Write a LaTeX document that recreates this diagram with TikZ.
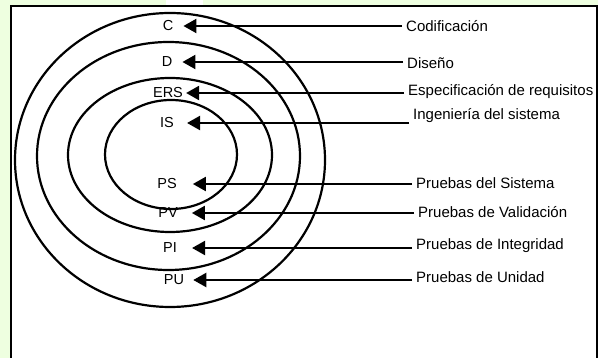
\documentclass[tikz,border=0pt]{standalone}
\usepackage{fontspec}
\setmainfont{Liberation Sans}
\usetikzlibrary{arrows.meta}
\definecolor{bgreen}{HTML}{EEFFE0}
\tikzset{
  ring/.style={line width=2.2pt, draw=black},
  conn/.style={line width=2.2pt, -{Triangle[length=13pt,width=14pt]}},
  inlab/.style={font=\fontsize{14.5}{16}\selectfont, inner sep=0pt},
  outlab/.style={font=\fontsize{15}{17}\selectfont, anchor=west, inner xsep=4pt, inner ysep=0pt},
}
\begin{document}
\begin{tikzpicture}[x=1pt,y=-1pt]
\useasboundingbox (0,0) rectangle (598,358);
\fill[bgreen] (0,0) rectangle (598,358);
\fill[white] (166,0) rectangle (203,6);
\fill[white] (11,6) rectangle (597,358);
\draw[line width=2pt] (11,358) -- (11,6) -- (597,6) -- (597,358);
% rings
\draw[ring] (170,160) ellipse [x radius=155, y radius=147];
\draw[ring] (168.5,156) ellipse [x radius=131.5, y radius=114];
\draw[ring] (170,155) ellipse [x radius=102, y radius=77];
\draw[ring] (171,154.5) ellipse [x radius=66, y radius=54.5];
% inner labels
\node[inlab] (lC) at (168,26) {C};
\node[inlab] (lD) at (167,62) {D};
\node[inlab] (lERS) at (168,93) {ERS};
\node[inlab] (lIS) at (167,123) {IS};
\node[inlab] (lPS) at (167,184) {PS};
\node[inlab] (lPV) at (168,213) {PV};
\node[inlab] (lPI) at (170,248) {PI};
\node[inlab] (lPU) at (174,280) {PU};
% outer labels
\node[outlab] (tC) at (402,26) {Codificación};
\node[outlab] (tD) at (403,63) {Diseño};
\node[outlab] (tERS) at (404,92) {Especificación de requisitos};
\node[outlab] (tIS) at (409,116) {Ingeniería del sistema};
\node[outlab] (tPS) at (412,183) {Pruebas del Sistema};
\node[outlab] (tPV) at (414,212) {Pruebas de Validación};
\node[outlab] (tPI) at (412,246) {Pruebas de Integridad};
\node[outlab] (tPU) at (412,277) {Pruebas de Unidad};
% connectors
\draw[conn, shorten >=10pt] (tC.west |- lC) -- (lC.east);
\draw[conn, shorten >=10pt] (tD.west |- lD) -- (lD.east);
\draw[conn, shorten >=3pt] (tERS.west |- lERS) -- (lERS.east);
\draw[conn, shorten >=13pt] (tIS.west |- lIS) -- (lIS.east);
\draw[conn, shorten >=16pt] (tPS.west |- lPS) -- (lPS.east);
\draw[conn, shorten >=14pt] (tPV.west |- lPV) -- (lPV.east);
\draw[conn, shorten >=15pt] (tPI.west |- lPI) -- (lPI.east);
\draw[conn, shorten >=9pt] (tPU.west |- lPU) -- (lPU.east);
\end{tikzpicture}
\end{document}
